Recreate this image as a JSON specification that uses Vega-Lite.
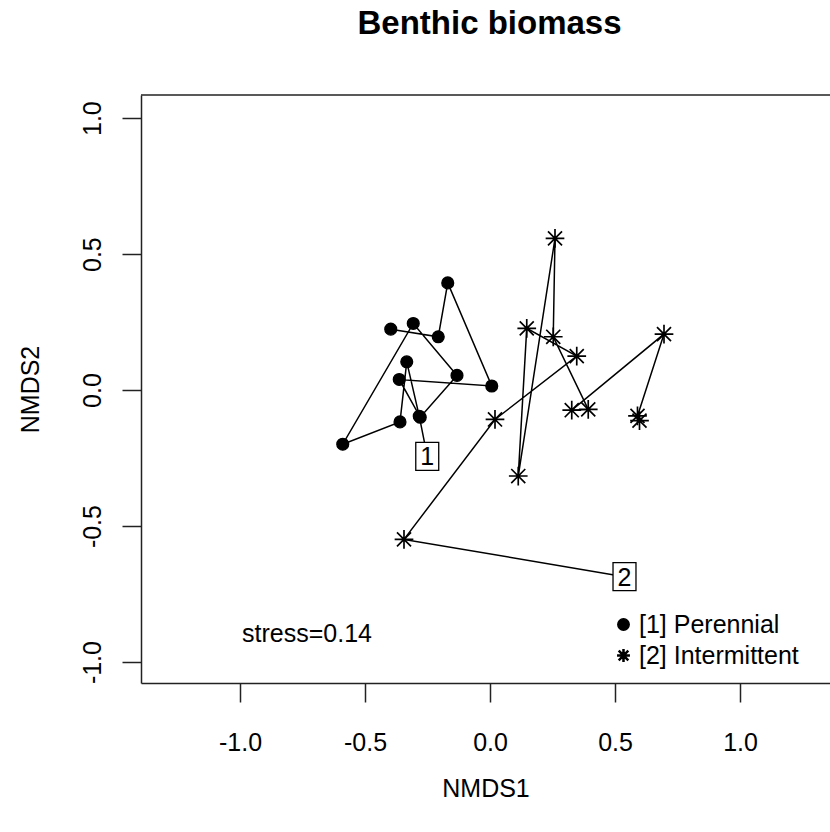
{
  "$schema": "https://vega.github.io/schema/vega-lite/v6.json",
  "autosize": {"type": "none"},
  "padding": {"left": 141, "top": 95, "right": 0, "bottom": 149},
  "width": 689,
  "height": 588,
  "background": "white",
  "title": {"text": "Benthic biomass", "font": "Liberation Sans", "fontSize": 33, "fontWeight": "bold", "color": "black", "anchor": "middle", "offset": 53, "dx": 4},
  "config": {
    "view": {"stroke": null},
    "font": "Liberation Sans",
    "axis": {"grid": false, "domainColor": "#222", "domainWidth": 1.5, "tickColor": "#222", "tickWidth": 1.5, "tickSize": 19, "labelFont": "Liberation Sans", "labelFontSize": 25, "labelColor": "black", "titleFont": "Liberation Sans", "titleFontSize": 25, "titleFontWeight": "normal", "titleColor": "black"}
  },
  "datasets": {
    "pts": [
      {"group": "[1] Perennial", "gid": "1", "seq": 0, "NMDS1": -0.251, "NMDS2": -0.244},
      {"group": "[1] Perennial", "gid": "1", "seq": 1, "NMDS1": -0.283, "NMDS2": -0.096},
      {"group": "[1] Perennial", "gid": "1", "seq": 2, "NMDS1": -0.333, "NMDS2": 0.104},
      {"group": "[1] Perennial", "gid": "1", "seq": 3, "NMDS1": -0.360, "NMDS2": -0.117},
      {"group": "[1] Perennial", "gid": "1", "seq": 4, "NMDS1": -0.589, "NMDS2": -0.199},
      {"group": "[1] Perennial", "gid": "1", "seq": 5, "NMDS1": -0.307, "NMDS2": 0.245},
      {"group": "[1] Perennial", "gid": "1", "seq": 6, "NMDS1": -0.132, "NMDS2": 0.054},
      {"group": "[1] Perennial", "gid": "1", "seq": 7, "NMDS1": -0.279, "NMDS2": -0.100},
      {"group": "[1] Perennial", "gid": "1", "seq": 8, "NMDS1": -0.363, "NMDS2": 0.039},
      {"group": "[1] Perennial", "gid": "1", "seq": 9, "NMDS1": 0.007, "NMDS2": 0.015},
      {"group": "[1] Perennial", "gid": "1", "seq": 10, "NMDS1": -0.169, "NMDS2": 0.394},
      {"group": "[1] Perennial", "gid": "1", "seq": 11, "NMDS1": -0.207, "NMDS2": 0.196},
      {"group": "[1] Perennial", "gid": "1", "seq": 12, "NMDS1": -0.397, "NMDS2": 0.224},
      {"group": "[2] Intermittent", "gid": "2", "seq": 0, "NMDS1": 0.538, "NMDS2": -0.686},
      {"group": "[2] Intermittent", "gid": "2", "seq": 1, "NMDS1": -0.344, "NMDS2": -0.549},
      {"group": "[2] Intermittent", "gid": "2", "seq": 2, "NMDS1": 0.020, "NMDS2": -0.108},
      {"group": "[2] Intermittent", "gid": "2", "seq": 3, "NMDS1": 0.347, "NMDS2": 0.125},
      {"group": "[2] Intermittent", "gid": "2", "seq": 4, "NMDS1": 0.147, "NMDS2": 0.227},
      {"group": "[2] Intermittent", "gid": "2", "seq": 5, "NMDS1": 0.113, "NMDS2": -0.316},
      {"group": "[2] Intermittent", "gid": "2", "seq": 6, "NMDS1": 0.260, "NMDS2": 0.558},
      {"group": "[2] Intermittent", "gid": "2", "seq": 7, "NMDS1": 0.253, "NMDS2": 0.196},
      {"group": "[2] Intermittent", "gid": "2", "seq": 8, "NMDS1": 0.393, "NMDS2": -0.071},
      {"group": "[2] Intermittent", "gid": "2", "seq": 9, "NMDS1": 0.327, "NMDS2": -0.074},
      {"group": "[2] Intermittent", "gid": "2", "seq": 10, "NMDS1": 0.696, "NMDS2": 0.206},
      {"group": "[2] Intermittent", "gid": "2", "seq": 11, "NMDS1": 0.590, "NMDS2": -0.095},
      {"group": "[2] Intermittent", "gid": "2", "seq": 12, "NMDS1": 0.598, "NMDS2": -0.112}
    ],
    "notes": [
      {"label": "stress=0.14", "NMDS1": -0.732, "NMDS2": -0.897}
    ],
    "frame": [
      {"edge": "top", "NMDS2": 1.085}
    ]
  },
  "layer": [
    {
      "data": {"name": "pts"},
      "mark": {"type": "line", "color": "black", "strokeWidth": 1.5},
      "encoding": {
        "x": {"field": "NMDS1", "type": "quantitative", "scale": {"domain": [-1.396, 1.36], "nice": false, "zero": false},
              "axis": {"orient": "bottom", "values": [-1, -0.5, 0, 0.5, 1], "labelExpr": "(datum.value < 0 ? '-' : '') + format(abs(datum.value), '.1f')", "labelPadding": 28, "titlePadding": 21, "title": "NMDS1"}},
        "y": {"field": "NMDS2", "type": "quantitative", "scale": {"domain": [-1.077, 1.085], "nice": false, "zero": false},
              "axis": {"values": [-1, -0.5, 0, 0.5, 1], "labelExpr": "(datum.value < 0 ? '-' : '') + format(abs(datum.value), '.1f')", "labelAngle": -90, "labelAlign": "center", "labelBaseline": "bottom", "labelPadding": 17, "titlePadding": 37, "title": "NMDS2"}},
        "detail": {"field": "group"},
        "order": {"field": "seq", "type": "quantitative"}
      }
    },
    {
      "data": {"name": "frame"},
      "mark": {"type": "rule", "color": "#222", "strokeWidth": 1.5},
      "encoding": {"y": {"field": "NMDS2", "type": "quantitative"}}
    },
    {
      "data": {"name": "pts"},
      "transform": [{"filter": "datum.seq > 0 && datum.gid == '1'"}],
      "mark": {"type": "point", "filled": true, "color": "black", "stroke": "black", "strokeWidth": 1.3, "opacity": 1, "size": 140},
      "encoding": {
        "x": {"field": "NMDS1", "type": "quantitative"},
        "y": {"field": "NMDS2", "type": "quantitative"},
        "shape": {"field": "group", "type": "nominal",
                  "scale": {"domain": ["[1] Perennial", "[2] Intermittent"], "range": ["circle", "M-1,-0.09H1V0.09H-1ZM-0.09,-1H0.09V1H-0.09ZM-0.686,-0.814L0.814,0.686L0.686,0.814L-0.814,-0.686ZM-0.814,0.686L0.686,-0.814L0.814,-0.686L-0.686,0.814Z"]},
                  "legend": {"orient": "none", "legendX": 470, "legendY": 517, "title": null, "padding": 0, "labelFont": "Liberation Sans", "labelFontSize": 25, "labelColor": "black", "labelOffset": 3, "rowPadding": 5, "symbolSize": 130, "symbolFillColor": "black", "symbolOpacity": 1}}
      }
    },
    {
      "data": {"name": "pts"},
      "transform": [{"filter": "datum.seq > 0 && datum.gid == '2'"}],
      "mark": {"type": "point", "filled": true, "color": "black", "opacity": 1, "size": 350},
      "encoding": {
        "x": {"field": "NMDS1", "type": "quantitative"},
        "y": {"field": "NMDS2", "type": "quantitative"},
        "shape": {"field": "group", "type": "nominal"}
      }
    },
    {
      "data": {"name": "pts"},
      "transform": [{"filter": "datum.seq == 0"}],
      "mark": {"type": "point", "shape": "M-0.82,-1H0.82V1H-0.82Z", "filled": true, "fill": "white", "stroke": "black", "strokeWidth": 1.3, "size": 784, "opacity": 1},
      "encoding": {
        "x": {"field": "NMDS1", "type": "quantitative"},
        "y": {"field": "NMDS2", "type": "quantitative"}
      }
    },
    {
      "data": {"name": "pts"},
      "transform": [{"filter": "datum.seq == 0"}],
      "mark": {"type": "text", "font": "Liberation Sans", "fontSize": 25, "color": "black", "align": "center", "baseline": "middle", "dy": 1},
      "encoding": {
        "x": {"field": "NMDS1", "type": "quantitative"},
        "y": {"field": "NMDS2", "type": "quantitative"},
        "text": {"field": "gid"}
      }
    },
    {
      "data": {"name": "notes"},
      "mark": {"type": "text", "font": "Liberation Sans", "fontSize": 25, "color": "black", "align": "center", "baseline": "middle"},
      "encoding": {
        "x": {"field": "NMDS1", "type": "quantitative"},
        "y": {"field": "NMDS2", "type": "quantitative"},
        "text": {"field": "label"}
      }
    }
  ]
}
